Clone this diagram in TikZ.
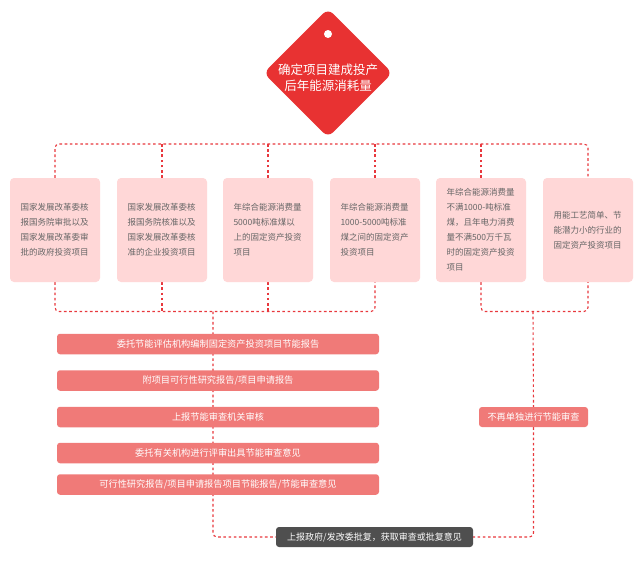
\documentclass[tikz,border=0pt]{standalone}
\usepackage{fontspec}
\setmainfont{Noto Sans CJK SC}
\usetikzlibrary{backgrounds}
\definecolor{lred}{HTML}{E8383D}
\definecolor{dred}{HTML}{E83232}
\definecolor{pinkbox}{HTML}{FFD7D7}
\definecolor{stepred}{HTML}{F07A78}
\definecolor{graybox}{HTML}{4F4F4F}
\definecolor{boxtext}{HTML}{666666}
\tikzset{
  conn/.style={draw=lred, line width=1.1pt, dash pattern=on 2.6pt off 2.6pt, rounded corners=4pt},
  catbox/.style={fill=pinkbox, rounded corners=4pt, minimum width=90pt, minimum height=104pt,
    text width=69pt, align=left, inner sep=0pt, text=boxtext, font=\fontsize{8.5}{15}\selectfont},
  stepbox/.style={fill=stepred, rounded corners=3pt, minimum width=322pt, minimum height=20.5pt,
    inner sep=0pt, text=white, font=\fontsize{9.2}{11}\selectfont},
  graybx/.style={fill=graybox, rounded corners=3pt, minimum width=197pt, minimum height=20pt,
    inner sep=0pt, text=white, font=\fontsize{9}{11}\selectfont},
}
\begin{document}
\begin{tikzpicture}[x=1pt,y=-1pt]
\useasboundingbox (0,0) rectangle (640,563);
% diamond
\node[fill=dred, rounded corners=7pt, minimum size=91pt, inner sep=0pt, rotate=45] (dia) at (328,73) {};
\node[circle, fill=white, minimum size=8pt, inner sep=0pt] (hole) at (328,34) {};
\node[text=white, align=center, font=\fontsize{12.5}{16}\selectfont] (diatext) at (328,78) {确定项目建成投产\\后年能源消耗量};
% category boxes
\node[catbox] (b1) at (55,230) {国家发展改革委核\\报国务院审批以及\\国家发展改革委审\\批的政府投资项目};
\node[catbox] (b2) at (162,230) {国家发展改革委核\\报国务院核准以及\\国家发展改革委核\\准的企业投资项目};
\node[catbox] (b3) at (268,230) {年综合能源消费量\\5000吨标准煤以\\上的固定资产投资\\项目};
\node[catbox] (b4) at (375,230) {年综合能源消费量\\1000-5000吨标准\\煤之间的固定资产\\投资项目};
\node[catbox] (b5) at (481,230) {年综合能源消费量\\不满1000-吨标准\\煤，且年电力消费\\量不满500万千瓦\\时的固定资产投资\\项目};
\node[catbox] (b6) at (588,230) {用能工艺简单、节\\能潜力小的行业的\\固定资产投资项目};
% steps
\node[stepbox] (s1) at (218,344) {委托节能评估机构编制固定资产投资项目节能报告};
\node[stepbox] (s2) at (218,380.5) {附项目可行性研究报告/项目申请报告};
\node[stepbox] (s3) at (218,417) {上报节能审查机关审核};
\node[stepbox] (s4) at (218,453) {委托有关机构进行评审出具节能审查意见};
\node[stepbox] (s5) at (218,484.5) {可行性研究报告/项目申请报告项目节能报告/节能审查意见};
\node[stepbox, minimum width=109pt, minimum height=20pt] (nr) at (533.5,417) {不再单独进行节能审查};
\node[graybx] (gray) at (374.5,537) {上报政府/发改委批复，获取审查或批复意见};
% junction coordinates
\coordinate (tl) at (0,144);
\coordinate (bl) at (0,311.5);
\coordinate (jL) at (213,311.5);
\coordinate (jR) at (533,311.5);
\begin{pgfonlayer}{background}
\fill[white] (0,0) rectangle (640,563);
\draw[conn] (b1.north) |- (b6.north |- tl) -- (b6.north);
\draw[conn] (b2.north) -- (b2.north |- tl);
\draw[conn] (b3.north) -- (b3.north |- tl);
\draw[conn] (b4.north) -- (b4.north |- tl);
\draw[conn] (b5.north) -- (b5.north |- tl);
\draw[conn] (b1.south) |- (b4.south |- bl) -- (b4.south);
\draw[conn] (b2.south) -- (b2.south |- bl);
\draw[conn] (b3.south) -- (b3.south |- bl);
\draw[conn] (b5.south) |- (b6.south |- bl) -- (b6.south);
\draw[conn] (jL) |- (gray.west);
\draw[conn] (jR) -- (nr.north);
\draw[conn] (nr.south) |- (gray.east);
\end{pgfonlayer}
\end{tikzpicture}
\end{document}
